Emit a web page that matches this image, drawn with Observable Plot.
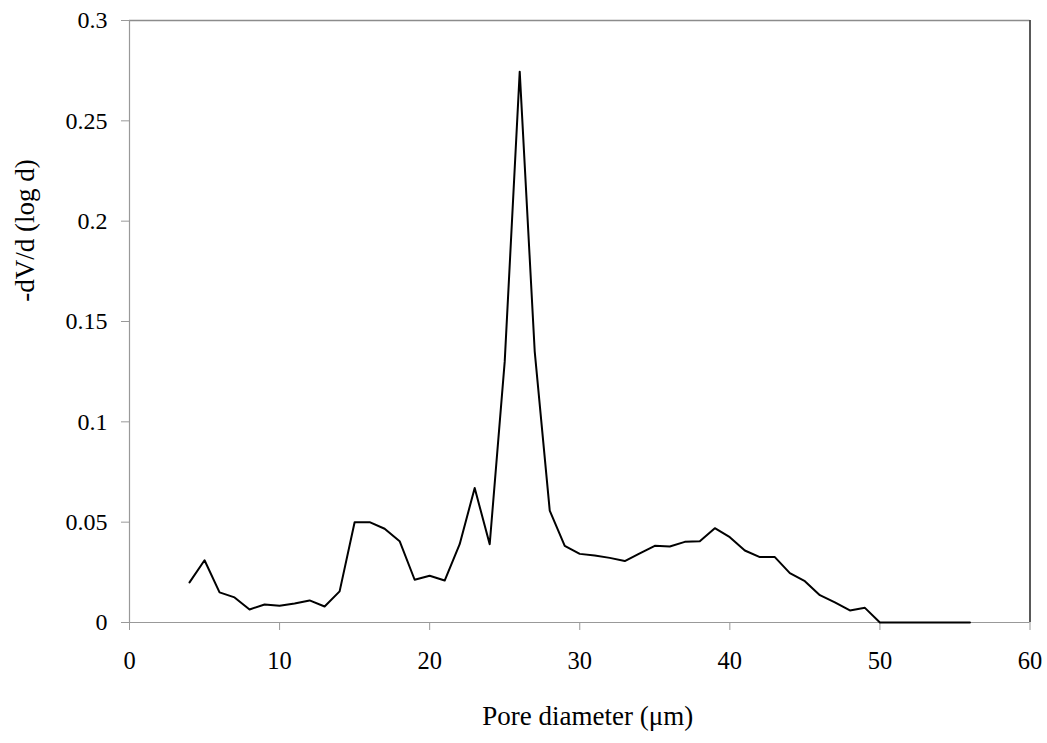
<!DOCTYPE html>
<html>
<head>
<meta charset="utf-8">
<script src="https://cdn.jsdelivr.net/npm/d3@7"></script>
<script src="https://cdn.jsdelivr.net/npm/@observablehq/plot@0.6"></script>
<style>
  html, body { margin: 0; padding: 0; background: #fff; }
  #chart svg, #chart svg text { font-family: "Liberation Serif", "Times New Roman", Times, "DejaVu Serif", serif !important; }
</style>
</head>
<body>
<div id="chart"></div>
<script>
const poreDiameter = [4, 5, 6, 7, 8, 9, 10, 11, 12, 13, 14, 15, 16, 17, 18, 19, 20, 21, 22, 23, 24, 25, 26, 27, 28, 29, 30,
  31, 32, 33, 34, 35, 36, 37, 38, 39, 40, 41, 42, 43, 44, 45, 46, 47, 48, 49, 50, 51, 52, 53, 54, 55, 56];
const dVdlogd = [0.020, 0.031, 0.015, 0.0125, 0.0065, 0.009, 0.0083, 0.0095, 0.011, 0.008, 0.0155, 0.050, 0.050, 0.0467,
  0.0405, 0.0213, 0.0233, 0.0209, 0.039, 0.067, 0.039, 0.130, 0.2745, 0.135, 0.0558, 0.0382, 0.0342, 0.0334, 0.0322,
  0.0306, 0.0345, 0.0382, 0.0379, 0.0402, 0.0405, 0.047, 0.0425, 0.0359, 0.0326, 0.0326, 0.0246, 0.0206, 0.0136,
  0.0100, 0.006, 0.0073, 0, 0, 0, 0, 0, 0, 0];
const xTicks = [0, 10, 20, 30, 40, 50, 60];
const yTicks = [0, 0.05, 0.1, 0.15, 0.2, 0.25, 0.3];
const xLabel = "Pore diameter (μm)";
const yLabel = "-dV/d (log d)";

const data = poreDiameter.map((d, i) => ({x: d, y: dVdlogd[i]}));
const fontFamily = "Liberation Serif";

const chart = Plot.plot({
  width: 1047,
  height: 743,
  marginLeft: 129,
  marginRight: 17.5,
  marginTop: 20,
  marginBottom: 121,
  style: {fontFamily, fontSize: "24px", color: "#000", background: "#fff"},
  x: {domain: [0, 60]},
  y: {domain: [0, 0.3]},
  marks: [
    Plot.ruleY([0.3], {stroke: "#8c8c8c", strokeWidth: 1.5}),
    Plot.ruleX([60], {stroke: "#222", strokeWidth: 1.5}),
    Plot.axisX({ticks: xTicks, tickFormat: d => String(d), tickSize: 8, tickPadding: 21, stroke: "#999", label: null, fill: "#000", fontSize: 24.5, fontFamily}),
    Plot.axisY({ticks: yTicks, tickFormat: d => String(d), tickSize: 8, tickPadding: 14, stroke: "#999", label: null, fill: "#000", fontSize: 24, fontFamily}),
    Plot.ruleX([0], {stroke: "#999", strokeWidth: 1.2}),
    Plot.ruleY([0], {stroke: "#999", strokeWidth: 1.2}),
    Plot.line(data, {x: "x", y: "y", stroke: "#000", strokeWidth: 2}),
    Plot.text([xLabel], {frameAnchor: "bottom", textAnchor: "middle", dx: 8, dy: 102, fontSize: 27, fill: "#000", fontFamily}),
    Plot.text([yLabel], {frameAnchor: "left", textAnchor: "middle", dx: -104, dy: -91, rotate: -90, fontSize: 27, fill: "#000", fontFamily})
  ]
});
document.getElementById("chart").appendChild(chart);
</script>
</body>
</html>
